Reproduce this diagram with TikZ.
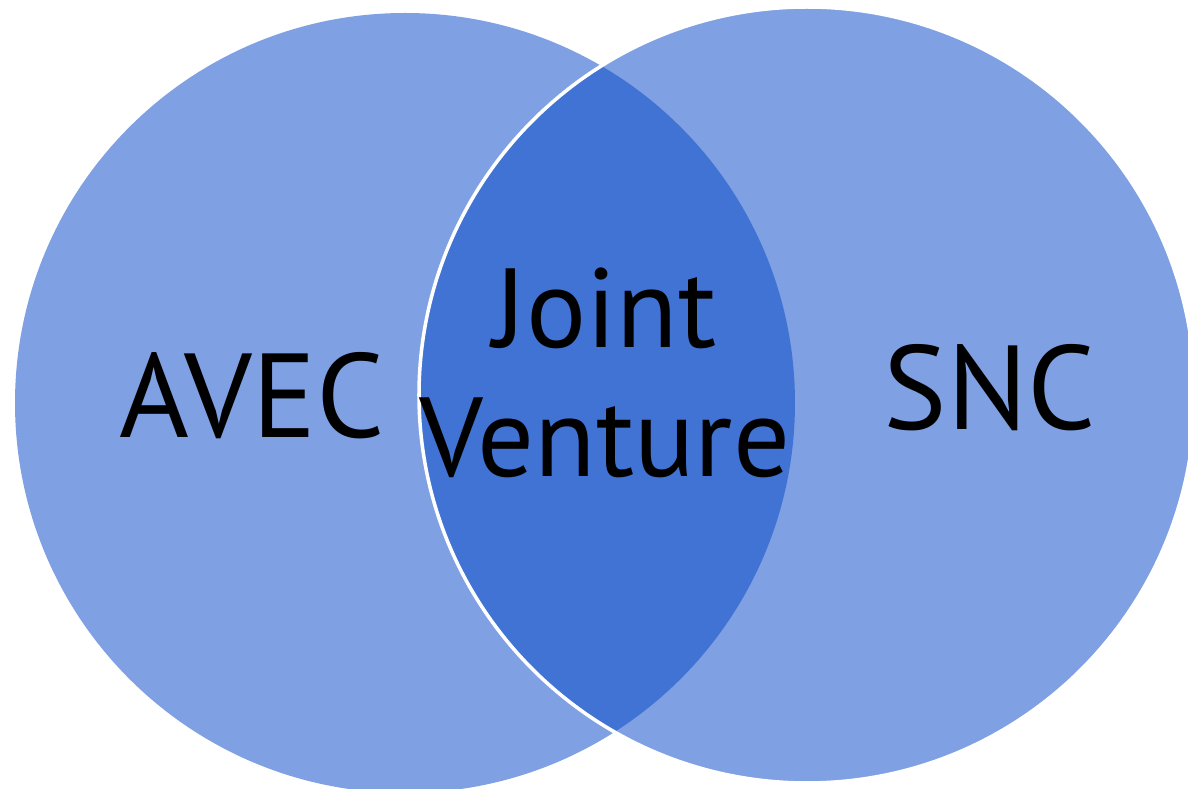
\documentclass[tikz,border=0pt]{standalone}
\definecolor{SetBlue}{RGB}{127, 160, 226}
\definecolor{LensBlue}{RGB}{65, 115, 212}
\usepackage{fontspec}
\setmainfont{PT Sans}
\usepackage{tikz}
\usetikzlibrary{positioning}

\begin{document}
\begin{tikzpicture}[
            label/.style={align=center, font=\fontsize{34}{37}\selectfont, inner sep=0pt},
            set/.style={fill=SetBlue},
        ]
            \useasboundingbox (0,0) rectangle (11.88,-7.89);
            \fill[white] (0,0) rectangle (11.88,-7.89);
            \coordinate (avecC) at (4.05,-4.03);
            \coordinate (sncC) at (8.07,-3.95);
            % the two sets
            \fill[set] (avecC) circle (3.90);
            \fill[set] (sncC) circle (3.88);
            % overlap
            \begin{scope}
                \clip (avecC) circle (3.90);
                \fill[LensBlue] (sncC) circle (3.88);
            \end{scope}
            \draw[white, line width=1pt] (sncC) circle (3.88);
            \node[label] (avec) at (2.52,-3.96) {AVEC};
            \node[label] (snc) at (9.90,-3.88) {SNC};
            \node[label, font=\fontsize{32}{36.7}\selectfont] (jv) at (6.05,-3.73) {Joint\\Venture};
        \end{tikzpicture}
\end{document}
